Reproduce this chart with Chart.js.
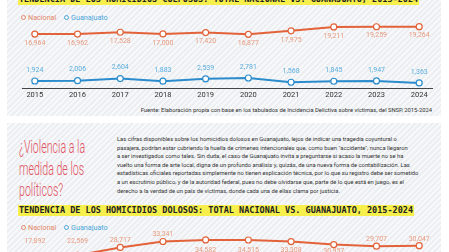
<!DOCTYPE html>
<html>
<head>
<meta charset="utf-8">
<script src="https://cdn.jsdelivr.net/npm/chart.js@4.4.0/dist/chart.umd.min.js"></script>
<style>
  html, body { margin: 0; padding: 0; }
  body { width: 449px; height: 252px; overflow: hidden; position: relative; background: #fff; font-family: Roboto, sans-serif; }
  .panel { position: absolute; left: 7px; width: 434px;
    background: repeating-linear-gradient(135deg, #eceef1 0px, #eceef1 2px, #f7f8f9 2px, #f7f8f9 4px); }
  .ttl { position: absolute; left: 18px; height: 11px; line-height: 11px; background: #f7f04c;
    font-family: "DejaVu Sans Mono", monospace; font-weight: bold; font-size: 8.5px; color: #222; white-space: nowrap; padding: 0 1px; }
  .legend { position: absolute; left: 21px; font-size: 7.2px; white-space: nowrap; }
  .legend span { display: inline-block; margin-right: 6px; }
  .legend i { display: inline-block; width: 3px; height: 3px; border-radius: 50%; border: 1.2px solid; margin-right: 2px; vertical-align: 0px; }
  canvas { position: absolute; left: 0; }
  .src { position: absolute; right: 17px; top: 107px; font-size: 5.8px; color: #333; white-space: nowrap; }
  .head { position: absolute; left: 19px; top: 136px; font-size: 19px; line-height: 21.5px; font-weight: 300; color: #e2505f;
    transform: scaleX(0.56); transform-origin: left top; white-space: nowrap; }
  .txt { position: absolute; left: 117px; top: 135px; font-size: 5.8px; line-height: 8.6px; color: #333; white-space: nowrap; }
</style>
</head>
<body>
<div class="panel" style="top:0;height:116px"></div>
<div class="panel" style="top:123px;height:140px"></div>

<div class="ttl" style="top:-6px">TENDENCIA DE LOS HOMICIDIOS CULPOSOS: TOTAL NACIONAL VS. GUANAJUATO, 2015-2024</div>
<div class="legend" style="top:13px">
  <span style="color:#e3876a"><i style="border-color:#e3876a"></i>Nacional</span>
  <span style="color:#4aa6dc"><i style="border-color:#4aa6dc"></i>Guanajuato</span>
</div>
<canvas id="culposos" width="449" height="102" style="top:0"></canvas>
<div class="src">Fuente: Elaboración propia con base en los tabulados de Incidencia Delictiva sobre víctimas, del SNSP, 2015-2024</div>

<div class="head">¿Violencia a la<br>medida de los<br>políticos?</div>
<div class="txt">Las cifras disponibles sobre los homicidios dolosos en Guanajuato, lejos de indicar una tragedia coyuntural o<br>pasajera, podrían estar cubriendo la huella de crímenes intencionales que, como buen "accidente", nunca llegaron<br>a ser investigados como tales. Sin duda, el caso de Guanajuato invita a preguntarse si acaso la muerte no se ha<br>vuelto una forma de arte local, digna de un profundo análisis y, quizás, de una nueva forma de contabilización. Las<br>estadísticas oficiales reportadas simplemente no tienen explicación técnica, por lo que su registro debe ser sometido<br>a un escrutinio público, y de la autoridad federal, pues no debe olvidarse que, parte de lo que está en juego, es el<br>derecho a la verdad de un país de víctimas, donde cada una de ellas clama por justicia.</div>

<div class="ttl" style="top:205px">TENDENCIA DE LOS HOMICIDIOS DOLOSOS: TOTAL NACIONAL VS. GUANAJUATO, 2015-2024</div>
<div class="legend" style="top:223px">
  <span style="color:#e3876a"><i style="border-color:#e3876a"></i>Nacional</span>
  <span style="color:#4aa6dc"><i style="border-color:#4aa6dc"></i>Guanajuato</span>
</div>
<canvas id="dolosos" width="449" height="102" style="top:196px"></canvas>

<script>
// datos
const years = [2015, 2016, 2017, 2018, 2019, 2020, 2021, 2022, 2023, 2024];
const nacionalCulposos = [16964, 16962, 17528, 17000, 17420, 16877, 17975, 19211, 19259, 19264];
const gtoCulposos = [1924, 2006, 2604, 1883, 2539, 2781, 1568, 1845, 1947, 1363];
const nacionalDolosos = [17892, 22569, 28717, 33341, 34582, 34515, 33308, 30957, 29707, 30047];

const naranja = '#e2623a';
const azul = '#2a8ccc';

function pts(vals) {
    return vals.map((v, i) => ({ x: years[i], y: v }));
}

// etiquetas de valores
const valueLabels = {
    id: 'valueLabels',
    afterDatasetsDraw(chart, args, opts) {
        const ctx = chart.ctx;
        ctx.save();
        ctx.font = '7px Roboto';
        ctx.textAlign = 'center';
        ctx.textBaseline = 'middle';
        chart.data.datasets.forEach((ds, d) => {
            const meta = chart.getDatasetMeta(d);
            ctx.fillStyle = opts.colors[d];
            meta.data.forEach((pt, i) => {
                const off = opts.offsets[d][i];
                ctx.fillText(ds.data[i].y.toLocaleString('en-US'), pt.x, pt.y + off);
            });
        });
        ctx.restore();
    }
};

function xScale(show) {
    return {
        type: 'linear',
        min: 2014.7,
        max: 2024.3,
        afterBuildTicks: s => { s.ticks = years.map(v => ({ value: v })); },
        afterFit: s => { s.height = 14; },
        grid: { display: false, drawTicks: false },
        border: { display: show, color: '#444', width: 1 },
        ticks: {
            display: show,
            padding: 3,
            color: '#333',
            font: { family: 'Roboto', size: 7.5 },
            callback: v => String(v)
        }
    };
}

const lineStyle = (color) => ({
    borderColor: color,
    borderWidth: 2,
    pointRadius: 3,
    pointBorderWidth: 1.2,
    pointBackgroundColor: '#fff',
    pointBorderColor: color,
    tension: 0,
    clip: false
});

// 1º Gráfica
const ctx1 = document.getElementById('culposos').getContext('2d');
const chart1 = new Chart(ctx1, {
    type: 'line',
    data: {
        datasets: [
            Object.assign({ label: 'Nacional', data: pts(nacionalCulposos), yAxisID: 'y' }, lineStyle(naranja)),
            Object.assign({ label: 'Guanajuato', data: pts(gtoCulposos), yAxisID: 'y2' }, lineStyle(azul))
        ]
    },
    options: {
        responsive: false,
        animation: false,
        layout: { padding: { top: 20, left: 22, right: 17, bottom: 0 } },
        scales: {
            x: xScale(true),
            y: { display: false, min: 0, max: 21374 },
            y2: { display: false, min: -80, max: 19350 }
        },
        plugins: {
            legend: { display: false },
            tooltip: { enabled: false },
            valueLabels: { colors: ['#e89a80', '#5aaee0'], offsets: [Array(10).fill(9), Array(10).fill(-11)] }
        }
    },
    plugins: [valueLabels]
});

// 2º Gráfica
const ctx2 = document.getElementById('dolosos').getContext('2d');
const chart2 = new Chart(ctx2, {
    type: 'line',
    data: {
        datasets: [
            Object.assign({ label: 'Nacional', data: pts(nacionalDolosos), yAxisID: 'y' }, lineStyle(naranja))
        ]
    },
    options: {
        responsive: false,
        animation: false,
        layout: { padding: { top: 36, left: 22, right: 17, bottom: 0 } },
        scales: {
            x: xScale(true),
            y: { display: false, min: 0, max: 40800 }
        },
        plugins: {
            legend: { display: false },
            tooltip: { enabled: false },
            valueLabels: { colors: ['#e89a80'], offsets: [[-20, -14, -7.5, -7, 10, 10, 8.5, 7, -7, -6]] }
        }
    },
    plugins: [valueLabels]
});
</script>
</body>
</html>
